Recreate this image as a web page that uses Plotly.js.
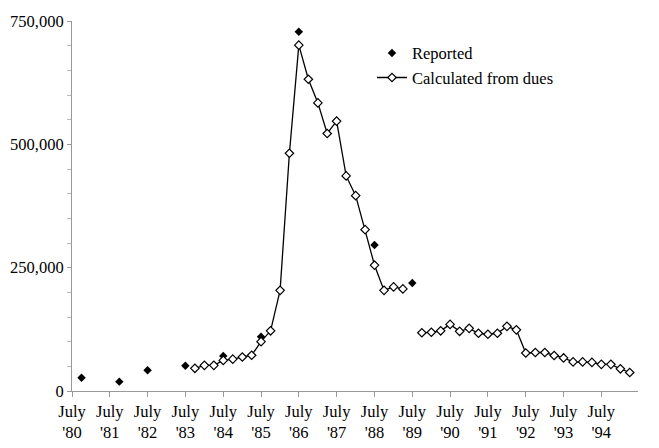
<!DOCTYPE html>
<html>
<head>
<meta charset="utf-8">
<script src="https://cdn.plot.ly/plotly-3.0.1.min.js"></script>
<style>
  html, body { margin: 0; padding: 0; background: #fff; }
  #chart { width: 659px; height: 448px; }
</style>
</head>
<body>
<div id="chart"></div>
<script>
// reported membership (filled diamonds)
var reportedDates = ['1980-10-01', '1981-10-01', '1982-07-01', '1983-07-01', '1984-07-01',
                     '1985-07-01', '1986-07-01', '1987-07-01', '1988-07-01', '1989-07-01'];
var reportedValues = [27000, 19000, 42000, 51000, 71000, 110000, 728000, 548000, 296000, 219000];

// calculated from dues, quarterly (null = gap in the line)
var calcDates = [
  '1983-10-01', '1984-01-01', '1984-04-01', '1984-07-01', '1984-10-01', '1985-01-01',
  '1985-04-01', '1985-07-01', '1985-10-01', '1986-01-01', '1986-04-01', '1986-07-01',
  '1986-10-01', '1987-01-01', '1987-04-01', '1987-07-01', '1987-10-01', '1988-01-01',
  '1988-04-01', '1988-07-01', '1988-10-01', '1989-01-01', '1989-04-01', '1989-07-01',
  '1989-10-01', '1990-01-01', '1990-04-01', '1990-07-01', '1990-10-01', '1991-01-01',
  '1991-04-01', '1991-07-01', '1991-10-01', '1992-01-01', '1992-04-01', '1992-07-01',
  '1992-10-01', '1993-01-01', '1993-04-01', '1993-07-01', '1993-10-01', '1994-01-01',
  '1994-04-01', '1994-07-01', '1994-10-01', '1995-01-01', '1995-04-01'
];
var calcValues = [
  46000, 52000, 52000, 62000, 64500, 69000,
  72500, 100000, 122000, 204000, 482000, 701000,
  632000, 584000, 522000, 547000, 436000, 396000,
  327000, 255000, 204000, 211000, 207000, null,
  118000, 119000, 122000, 135000, 121000, 127000,
  117000, 115000, 117000, 131000, 124000, 77000,
  78000, 78000, 72000, 67000, 59000, 59000,
  58000, 54000, 54000, 45000, 37500
];

var tickYears = ['80', '81', '82', '83', '84', '85', '86', '87', '88', '89', '90', '91', '92', '93', '94'];
var tickDates = tickYears.map(function (y) { return '19' + y + '-07-01'; });
var tickText = tickYears.map(function (y) { return "July<br>'" + y; });

var fontName = 'Liberation Serif';

var reported = {
  x: reportedDates,
  y: reportedValues,
  name: 'Reported',
  type: 'scatter',
  mode: 'markers',
  marker: { symbol: 'diamond', size: 6.5, color: '#000' }
};

var calculated = {
  x: calcDates,
  y: calcValues,
  name: 'Calculated from dues',
  type: 'scatter',
  mode: 'lines+markers',
  connectgaps: false,
  line: { color: '#000', width: 1.3 },
  marker: { symbol: 'diamond', size: 6.5, color: '#fff', line: { color: '#000', width: 1.2 } }
};

var layout = {
  width: 659,
  height: 448,
  margin: { l: 72, r: 21, t: 21, b: 57 },
  paper_bgcolor: '#fff',
  plot_bgcolor: '#fff',
  font: { family: fontName, size: 16.5, color: '#000' },
  showlegend: true,
  legend: {
    x: 0.53, y: 0.96, xanchor: 'left', yanchor: 'top',
    bgcolor: 'rgba(0,0,0,0)',
    tracegroupgap: 0
  },
  xaxis: {
    type: 'date',
    range: ['1980-07-01', '1995-06-20'],
    tickmode: 'array',
    tickvals: tickDates,
    ticktext: tickText,
    showgrid: false,
    zeroline: false,
    showline: true,
    linecolor: '#999',
    linewidth: 1,
    ticks: 'outside',
    ticklen: 5,
    tickcolor: '#999'
  },
  yaxis: {
    range: [0, 750000],
    tickvals: [0, 250000, 500000, 750000],
    tickformat: ',d',
    showgrid: false,
    zeroline: false,
    showline: true,
    linecolor: '#999',
    linewidth: 1,
    ticks: 'outside',
    ticklen: 4,
    tickcolor: '#999',
    minor: { tickmode: 'linear', tick0: 0, dtick: 50000, ticks: 'outside', ticklen: 4, tickcolor: '#bbb', showgrid: false }
  }
};

Plotly.newPlot('chart', [reported, calculated], layout, { displayModeBar: false, staticPlot: true });
</script>
</body>
</html>
